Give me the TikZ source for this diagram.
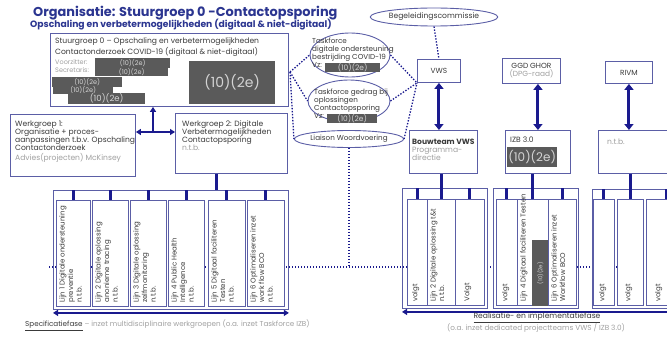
\documentclass[tikz,border=0pt]{standalone}
\usepackage{fontspec}
\setmainfont{Poppins}
\usetikzlibrary{positioning, shapes.geometric, arrows.meta, calc}
\definecolor{titleblue}{HTML}{2B3590}
\definecolor{boxline}{HTML}{5B5EA6}
\definecolor{navy}{HTML}{1A1A8E}
\definecolor{redact}{HTML}{5A5A5A}
\definecolor{redtext}{HTML}{D4D4D4}
\definecolor{textdark}{HTML}{3A3A3A}
\definecolor{greytext}{HTML}{A0A0A0}

\begin{document}
\begin{tikzpicture}[x=1pt, y=-1pt,
        box/.style={draw=boxline, line width=0.9pt, fill=white, anchor=north west,
                    inner sep=0pt, text=textdark, font=\fontsize{7.4}{8}\selectfont},
        colbox/.style={box, line width=0.8pt, minimum height=106pt},
        frame/.style={box, fill=none},
        oval/.style={ellipse, draw=boxline, line width=0.9pt, fill=white, inner sep=0pt},
        redbox/.style={fill=redact, text=redtext, inner sep=0pt, anchor=north west,
                       font=\fontsize{6.5}{6.5}\selectfont},
        txt/.style={anchor=north west, inner sep=0pt, align=left, text=textdark,
                    font=\fontsize{7.6}{8}\selectfont},
        grey/.style={txt, text=greytext},
        ovtxt/.style={txt, font=\fontsize{7.2}{8}\selectfont},
        coltxt/.style={txt, rotate=90, font=\fontsize{7}{8.5}\selectfont},
        tab/.style={navy, line width=3pt},
        dbl/.style={navy, line width=3pt, {Triangle[length=6pt,width=9pt]}-{Triangle[length=6pt,width=9pt]}},
        dblthin/.style={navy, line width=1.8pt, {Triangle[length=5pt,width=6pt]}-{Triangle[length=5pt,width=6pt]}},
        arr/.style={navy, line width=1.8pt, -{Triangle[length=5pt,width=6pt]}},
        dotln/.style={navy, line width=1.3pt, dash pattern=on 1.4pt off 1.6pt},
    ]
    \useasboundingbox (0,0) rectangle (667,337);
    \clip (0,0) rectangle (667,337);

    % titles
    \node[anchor=west, inner sep=0pt, text=titleblue, font=\fontsize{12.9}{13}\bfseries\selectfont]
        (ttl) at (33,13) {Organisatie: Stuurgroep 0 -Contactopsporing};
    \node[anchor=west, inner sep=0pt, text=titleblue, font=\fontsize{9.2}{10}\bfseries\selectfont]
        (sub) at (30,25) {Opschaling en verbetermogelijkheden (digitaal \& niet-digitaal)};

    % dotted backbone (behind the columns)
    \coordinate (dl) at (49,267);
    \coordinate (dr) at (667,267);
    \draw[dotln] (dl) -- (dr);

    % Stuurgroep
    \node[box, minimum width=238pt, minimum height=73pt] (sg) at (50,33) {};
    \node[txt, font=\fontsize{7.6}{9}\selectfont] (sgt) at (55,38) {Stuurgroep 0 -- Opschaling en verbetermogelijkheden\\
        Contactonderzoek COVID-19 (digitaal \& niet-digitaal)};
    \node[grey, font=\fontsize{6.5}{8}\selectfont] (sgr) at (55,59) {Voorzitter:\\Secretaris:};
    \node[redbox, minimum width=75pt, minimum height=10pt] (ra) at (95,58) {(10)(2e)};
    \node[redbox, minimum width=73pt, minimum height=9pt] (rb) at (95,67) {(10)(2e)};
    \node[redbox, minimum width=70pt, minimum height=10pt] (rc) at (52,77) {(10)(2e)};
    \node[redbox, minimum width=60pt, minimum height=8pt] (rd) at (53,86) {(10)(2e)};
    \node[redbox, minimum width=77pt, minimum height=11pt, font=\fontsize{8.5}{8.5}\selectfont]
        (re) at (68,93) {(10)(2e)};
    \node[redbox, minimum width=86pt, minimum height=43pt, font=\fontsize{14}{14}\selectfont]
        (rf) at (189,61) {(10)(2e)};

    % Werkgroepen
    \node[box, minimum width=125pt, minimum height=62pt] (wg1) at (10,114) {};
    \node[txt] (wg1t) at (15,121) {Werkgroep 1:\\Organisatie + proces-\\aanpassingen t.b.v. Opschaling\\Contactonderzoek};
    \node[grey] (wg1a) at (15,153) {Advies(projecten) McKinsey};
    \node[box, minimum width=112pt, minimum height=60pt] (wg2) at (175,113) {};
    \node[txt] (wg2t) at (182,121) {Werkgroep 2: Digitale\\Verbetermogelijkheden\\Contactopsporing};
    \node[grey] (wg2a) at (182,145) {n.t.b.};
    \coordinate (tj) at (153,132);
    \draw[dblthin] (wg1.east |- tj) -- (wg2.west |- tj);
    \draw[arr] (tj) -- (tj |- sg.south);

    % taskforces
    \node[oval, minimum width=80pt, minimum height=44pt] (tf1) at (350,55) {};
    \node[ovtxt] (tf1t) at (312,38) {Taskforce\\digitale ondersteuning\\bestrijding COVID-19\\Vz:};
    \node[redbox, minimum width=55pt, minimum height=9pt, font=\fontsize{7.5}{7.5}\selectfont] (tf1r) at (325,63) {(10)(2e)};
    \node[oval, minimum width=82pt, minimum height=42pt] (tf2) at (349,101) {};
    \node[ovtxt] (tf2t) at (314,89) {Taskforce gedrag bij\\oplossingen\\Contactopsporing\\Vz:};
    \node[redbox, minimum width=50pt, minimum height=8pt, font=\fontsize{7.5}{7.5}\selectfont] (tf2r) at (327,114) {(10)(2e)};
    \node[oval, minimum width=82pt, minimum height=17pt, font=\fontsize{7.2}{8}\selectfont, text=textdark]
        (tf3) at (349,139) {Liaison Woordvoering};

    % VWS column
    \node[oval, minimum width=122pt, minimum height=18pt, font=\fontsize{7.6}{8}\selectfont, text=textdark]
        (bc) at (434,17) {Begeleidingscommissie};
    \node[box, minimum width=43pt, minimum height=23pt] (vws) at (417,59) {VWS};
    \node[box, minimum width=68pt, minimum height=43pt] (bw) at (409,130) {};
    \node[txt] (bwt) at (412,139) {\textbf{Bouwteam VWS}};
    \node[grey] (bwa) at (412,147) {Programma-\\directie};

    % GGD column
    \node[box, minimum width=58pt, minimum height=25pt, align=center] (ggd) at (502,58)
        {GGD GHOR\\{\color{greytext}(DPG-raad)}};
    \node[box, minimum width=65pt, minimum height=43pt] (izb) at (505,130) {};
    \node[txt] (izbt) at (510,137) {IZB 3.0};
    \node[redbox, minimum width=50pt, minimum height=20pt, font=\fontsize{12}{12}\selectfont] (izbr) at (507,147) {(10)(2e)};

    % RIVM column
    \node[box, minimum width=47pt, minimum height=22pt] (rivm) at (605,61) {RIVM};
    \node[box, minimum width=90pt, minimum height=43pt] (ntb) at (598,130) {};
    \node[grey] (ntbt) at (607,139) {n.t.b.};

    % dotted links
    \coordinate (sgj) at (290,72);
    \draw[dotln] (sgj) -- (tf1.west);
    \draw[dotln] (sgj) -- (tf2.west);
    \draw[dotln] (sgj) -- (tf3.west);
    \draw[dotln] (tf1.east) -- (vws.south west);
    \draw[dotln] (tf2.east) -- (vws.south west);
    \draw[dotln] (tf3.east) -- (vws.south west);
    \draw[dotln] (bc.south) -- (vws.north);
    \draw[dotln] (tf3.south) -- (tf3.south |- dl);

    \draw[dbl] (vws.south) -- (vws.south |- bw.north);
    \draw[dbl] (izb.north |- ggd.south) -- (izb.north);
    \draw[dbl] (rivm.south) -- (rivm.south |- ntb.north);

    % Specificatiefase lines
    \node[frame, minimum width=235pt, minimum height=119pt] (lc) at (53,190) {};
    \draw[tab] ([xshift=-15pt]wg2.south) -- ([xshift=-15pt]wg2.south |- lc.north);
    \foreach \n/\xa/\w/\txt in {
        1/56/34/{Lijn 1 Digitale ondersteuning\\preventie\\n.t.b.},
        2/92/36/{Lijn 2 Digitale oplossing\\anonieme tracing\\n.t.b.},
        3/130/36/{Lijn 3 Digitale oplossing\\zelfmonitoring\\n.t.b.},
        4/168/36/{Lijn 4 Public Health\\Intelligence\\n.t.b.},
        5/208/37/{Lijn 5 Digitaal faciliteren\\Testen\\n.t.b.},
        6/247/37/{Lijn 6 Optimaliseren inzet\\work flow BCO\\n.t.b.}} {
        \node[colbox, minimum width=\w] (l\n) at (\xa,200) {};
        \draw[tab] (l\n.north |- lc.north) -- (l\n.north);
        \node[coltxt] (l\n-t) at ([xshift=3pt,yshift=4pt]l\n.south west) {\txt};
    }
    \draw[dblthin] ([yshift=-3pt]lc.south west) -- ([yshift=-3pt]lc.south east);
    \node[anchor=west, inner sep=0pt, text=greytext, font=\fontsize{7.2}{8}\selectfont] (spec) at (25,325)
        {{\color{textdark}\underline{Specificatiefase}} -- inzet multidisciplinaire werkgroepen (o.a. inzet Taskforce IZB)};

    % Realisatiefase lines
    \node[frame, minimum width=85pt, minimum height=120pt] (rc1) at (402,188) {};
    \node[frame, minimum width=85pt, minimum height=120pt] (rc2) at (493,188) {};
    \node[frame, minimum width=120pt, minimum height=119pt] (rc3) at (592,189) {};
    \foreach \n/\xa/\w/\dx/\txt in {
        1/407/20/5/{volgt},
        2/427/28/3/{Lijn 2 Digitale oplossing t\&t\\n.t.b.},
        3/455/29/9/{Volgt},
        4/496/21/6/{volgt},
        5/517/31/3/{Lijn 4 Digitaal faciliteren Testen},
        6/548/28/3/{Lijn 6 Optimaliseren inzet\\Workflow BCO},
        7/593/21/6/{volgt},
        8/617/26/8/{volgt},
        9/646/40/9/{volgt}} {
        \node[colbox, minimum width=\w] (r\n) at (\xa,199) {};
        \node[coltxt] (r\n-t) at ([xshift=\dx pt,yshift=4pt]r\n.south west) {\txt};
    }
    \foreach \c/\k in {r1/rc1, r3/rc1, r4/rc2, r6/rc2, r7/rc3, r9/rc3} {
        \draw[tab] (\c.north |- \k.north) -- (\c.north);
    }
    \draw[tab] (r2.north |- bw.south) -- (r2.north);
    \draw[tab] (r5.north |- izb.south) -- (r5.north);
    \draw[tab] (r8.north |- ntb.south) -- (r8.north);
    \node[redbox, minimum width=16pt, minimum height=66pt] (r5r) at (532,240) {};
    \node[inner sep=0pt, text=redtext, rotate=90, font=\fontsize{5.5}{5.5}\selectfont] (r5rt) at (r5r.center) {(10)(2e)};

    \draw[arr] ([yshift=-3pt]rc3.south east) -- ([yshift=-3pt]rc1.south west);
    \node[inner sep=0pt, text=textdark, font=\fontsize{7.6}{8}\selectfont] (real) at (537,318)
        {\underline{Realisatie- en implementatiefase}};
    \node[inner sep=0pt, text=greytext, font=\fontsize{7.3}{8}\selectfont] (reala) at (536,328)
        {(o.a. inzet dedicated projectteams VWS / IZB 3.0)};
\end{tikzpicture}
\end{document}
